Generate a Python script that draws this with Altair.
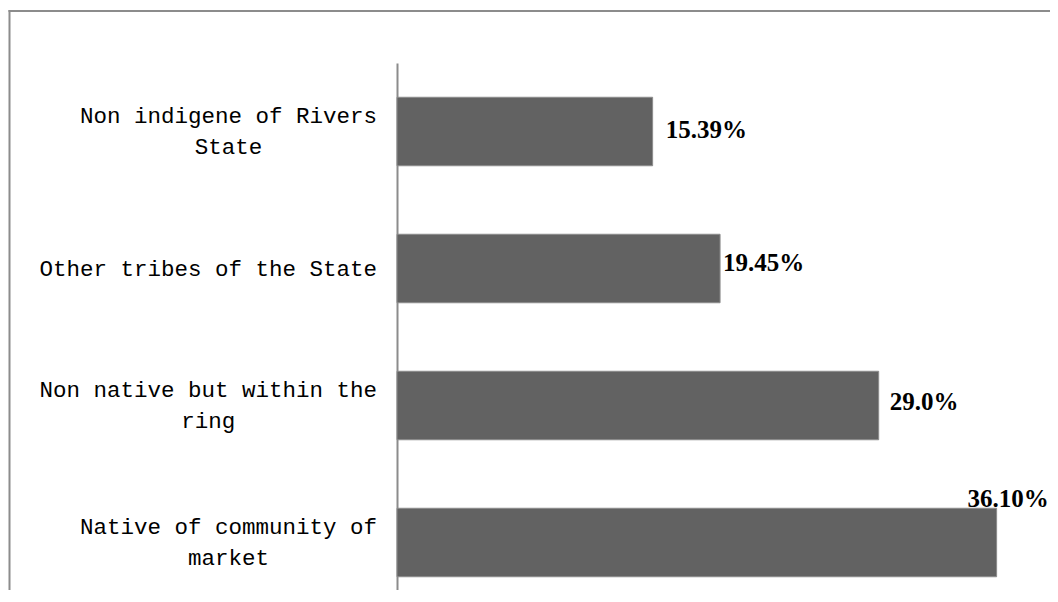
import altair as alt

# ---- data ----
categories = [
    "Non indigene of Rivers State",
    "Other tribes of the State",
    "Non native but within the ring",
    "Native of community of market",
]
label_lines = [
    ["Non indigene of Rivers", "State"],
    ["Other tribes of the State"],
    ["Non native but within the", "ring"],
    ["Native of community of", "market"],
]
values = [15.39, 19.45, 29.0, 36.10]
value_labels = ["15.39%", "19.45%", "29.0%", "36.10%"]

records = [
    {"cat": c, "lines": l, "value": v, "vlabel": t}
    for c, l, v, t in zip(categories, label_lines, values, value_labels)
]

# ---- styling / layout constants ----
FONT = "Liberation Mono"
FONT_SIZE = 22.5
CHAR_W = 0.6 * FONT_SIZE
LINE_H = 31
LABEL_GAP = 20
BAR_COLOR = "#626262"
LINE_GREY = "#8c8c8c"
PLOT_W = 653
PLOT_H = 527
STEP_RANGE = 548
X_MAX = PLOT_W / 16.61

# label nudges (dx, dy) per category, as placed in the original
label_offsets = {
    categories[0]: (13, -2),
    categories[1]: (3, -6),
    categories[2]: (11, -4),
    categories[3]: (-29, -44),
}

data = alt.Data(values=records)

yscale = alt.Scale(range=[0, STEP_RANGE], paddingInner=0.5, paddingOuter=0.25)
xscale = alt.Scale(domain=[0, X_MAX], nice=False, zero=True)
yaxis = alt.Axis(labels=False, ticks=False, title=None, grid=False,
                 domain=True, domainColor=LINE_GREY, domainWidth=2)
Y = alt.Y("cat:N", sort=categories, scale=yscale, axis=yaxis)

bars = alt.Chart(data).mark_bar(
    color=BAR_COLOR, stroke=LINE_GREY, strokeWidth=1
).encode(
    y=Y,
    x=alt.X("value:Q", scale=xscale, axis=None),
)


def cat_label_layer(n_lines):
    return alt.Chart(data).transform_filter(
        f"length(datum.lines) == {n_lines}"
    ).transform_calculate(
        lx=f"-{LABEL_GAP} - {CHAR_W / 2} * max(length(datum.lines[0]), length(peek(datum.lines)))"
    ).mark_text(
        font=FONT, fontSize=FONT_SIZE, align="center", baseline="middle",
        lineHeight=LINE_H, color="#000000", dy=-(n_lines - 1) * LINE_H / 2
    ).encode(
        y=Y,
        x=alt.X("lx:Q", scale=None, axis=None),
        text=alt.Text("lines:N"),
    )


val_layers = []
for c in categories:
    dx, dy = label_offsets[c]
    val_layers.append(
        alt.Chart(data).transform_filter(alt.datum.cat == c).mark_text(
            font="Liberation Serif", fontSize=25, fontWeight="bold",
            align="left", baseline="middle", dx=dx, dy=dy, color="#000000"
        ).encode(
            y=Y,
            x=alt.X("value:Q", scale=xscale, axis=None),
            text=alt.Text("vlabel:N"),
        )
    )

one = alt.Data(values=[{"k": 1}])
border_v = alt.Chart(one).mark_rule(color=LINE_GREY, strokeWidth=2).encode(
    x=alt.value(-387.5), y=alt.value(-53), y2=alt.value(700)
)
border_h = alt.Chart(one).mark_rule(color=LINE_GREY, strokeWidth=2).encode(
    y=alt.value(-52), x=alt.value(-388.5), x2=alt.value(800)
)

chart = alt.layer(
    bars, cat_label_layer(1), cat_label_layer(2), *val_layers, border_v, border_h
).resolve_scale(
    x="independent"
).properties(
    width=PLOT_W,
    height=PLOT_H,
    autosize=alt.AutoSizeParams(type="none"),
    padding={"left": 389, "top": 55, "right": 0, "bottom": 0},
    background="#ffffff",
).configure_view(stroke=None)

chart.save("out.html", embed_options={"renderer": "svg", "actions": False})
